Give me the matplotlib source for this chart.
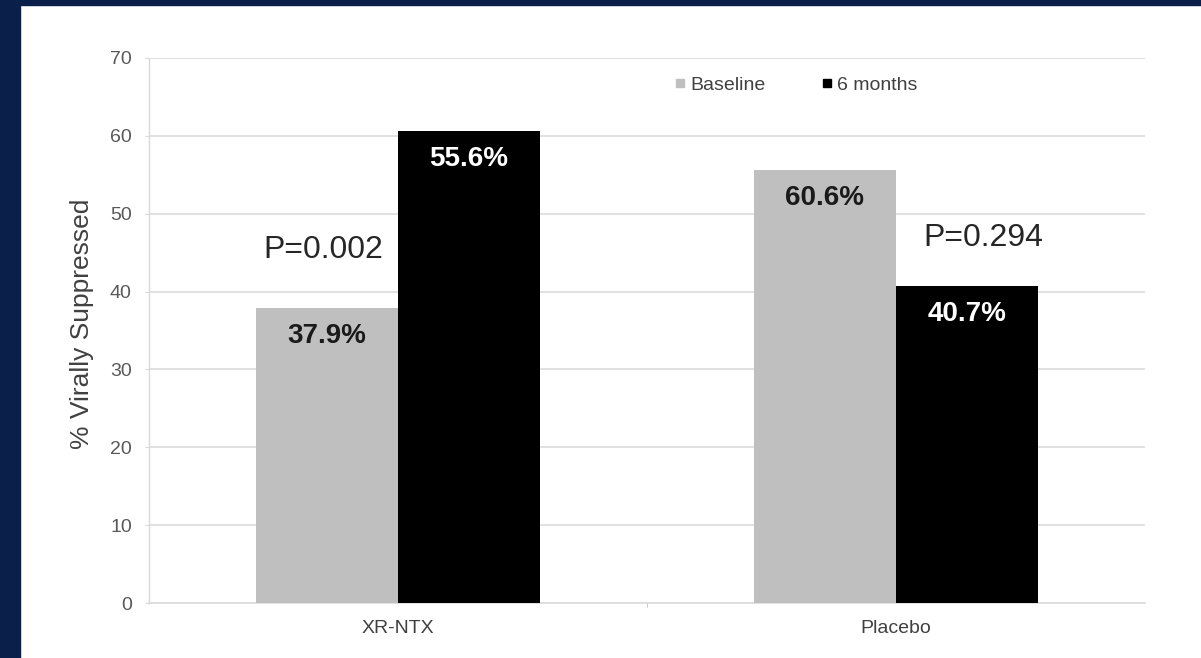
import matplotlib
matplotlib.use("Agg")
import matplotlib.pyplot as plt
from matplotlib.lines import Line2D
from matplotlib.patches import Rectangle
import numpy as np

# 資料
groups = ["XR-NTX", "Placebo"]
baseline = [37.9, 55.6]
six_months = [60.6, 40.7]
# 原圖上標籤文字（與柱高不完全一致，照原圖）
baseline_labels = ["37.9%", "60.6%"]
six_months_labels = ["55.6%", "40.7%"]
p_values = ["P=0.002", "P=0.294"]

plt.rcParams['font.family'] = ['Liberation Sans', 'DejaVu Sans']

fig = plt.figure(figsize=(12.01, 6.58), dpi=100)
fig.patch.set_facecolor('white')

# 深藍色邊框（上、左）
navy = '#0a1f4a'
fig.patches.append(Rectangle((0, 1 - 5 / 658), 1, 5 / 658, transform=fig.transFigure,
                             color=navy, zorder=0))
fig.patches.append(Rectangle((0, 0), 20 / 1201, 1, transform=fig.transFigure,
                             color=navy, zorder=0))

ax = fig.add_axes([148.5 / 1201, 55 / 658, 996.5 / 1201, 545 / 658])

x = np.arange(len(groups))
w = 0.285
bars1 = ax.bar(x - w / 2, baseline, w, color='#bfbfbf', zorder=3)
bars2 = ax.bar(x + w / 2, six_months, w, color='black', zorder=3)

# 柱內數值標籤
for b, lab in zip(bars1, baseline_labels):
    ax.text(b.get_x() + b.get_width() / 2, b.get_height() - 3.6, lab,
            ha='center', va='center', fontsize=20, fontweight='bold', color='#1a1a1a', zorder=4)
for b, lab in zip(bars2, six_months_labels):
    ax.text(b.get_x() + b.get_width() / 2, b.get_height() - 3.6, lab,
            ha='center', va='center', fontsize=20, fontweight='bold', color='white', zorder=4)

# P 值
ax.text(-0.150, 45.4, p_values[0], ha='center', va='center', fontsize=23, color='#262626')
ax.text(1.175, 46.9, p_values[1], ha='center', va='center', fontsize=23, color='#262626')

ax.set_xlim(-0.5, 1.5)
ax.set_ylim(0, 70)
ax.set_yticks(range(0, 71, 10))
ax.set_xticks(x)
ax.set_xticklabels(groups)
ax.set_xticks([0.5], minor=True)

ax.grid(axis='y', color='#d9d9d9', linewidth=1.1, zorder=0)
for s in ['top', 'right']:
    ax.spines[s].set_visible(False)
ax.spines['left'].set_color('#d9d9d9')
ax.spines['bottom'].set_color('#d9d9d9')
ax.spines['left'].set_linewidth(1.0)
ax.spines['bottom'].set_linewidth(1.1)

ax.tick_params(axis='y', length=3, color='#d9d9d9', pad=9, labelsize=14, labelcolor='#595959')
ax.tick_params(axis='x', which='major', length=0, pad=12, labelsize=14, labelcolor='#404040')
ax.tick_params(axis='x', which='minor', length=3, color='#bfbfbf')

ax.set_ylabel("% Virally Suppressed", fontsize=19, color='#404040', va='center')
ax.yaxis.set_label_coords(-0.067, 0.512)

handles = [Line2D([], [], marker='s', linestyle='none', color='#bfbfbf', markersize=6),
           Line2D([], [], marker='s', linestyle='none', color='black', markersize=6)]
ax.legend(handles, ["Baseline", "6 months"], loc='center', bbox_to_anchor=(0.650, 0.950),
          ncol=2, frameon=False, fontsize=14, handlelength=0.5, handletextpad=0.3,
          columnspacing=2.9, labelcolor='#404040')

plt.savefig("out.png", dpi=100, facecolor=fig.get_facecolor())
